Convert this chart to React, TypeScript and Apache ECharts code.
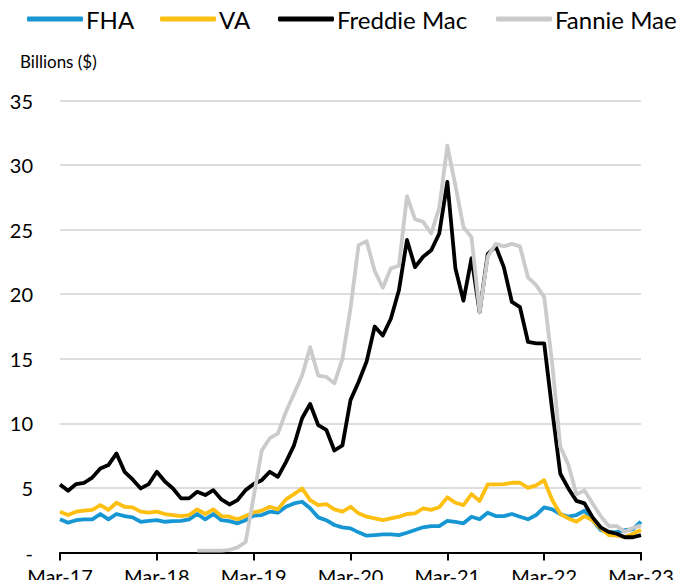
import React, { useEffect, useRef } from "react";
import * as echarts from "echarts";

const monthNames = ["Jan", "Feb", "Mar", "Apr", "May", "Jun", "Jul", "Aug", "Sep", "Oct", "Nov", "Dec"];
const categories: string[] = [];
for (let k = 0; k < 73; k++) {
  const m = (2 + k) % 12;
  const y = 17 + Math.floor((2 + k) / 12);
  categories.push(`${monthNames[m]}-${y}`);
}

const fha = [
  2.57, 2.31, 2.5, 2.57, 2.57, 2.98, 2.57, 2.98, 2.82, 2.72, 2.38, 2.45,
  2.5, 2.38, 2.43, 2.45, 2.57, 2.98, 2.57, 2.98, 2.5, 2.43, 2.26, 2.5,
  2.85, 2.9, 3.16, 3.08, 3.54, 3.8, 3.93, 3.42, 2.72, 2.5, 2.13, 1.95,
  1.87, 1.56, 1.3, 1.35, 1.4, 1.4, 1.35, 1.53, 1.74, 1.95, 2.05, 2.05,
  2.45, 2.38, 2.26, 2.77, 2.57, 3.08, 2.82, 2.82, 2.98, 2.77, 2.57, 2.9,
  3.5, 3.34, 2.98, 2.77, 2.9, 3.23, 2.5, 1.74, 1.53, 1.6, 1.74, 1.8,
  2.38,
];

const va = [
  3.16, 2.9, 3.16, 3.24, 3.3, 3.67, 3.3, 3.85, 3.54, 3.5, 3.16, 3.08,
  3.16, 2.98, 2.9, 2.82, 2.9, 3.34, 2.98, 3.34, 2.82, 2.77, 2.57, 2.82,
  3.1, 3.24, 3.54, 3.34, 4.11, 4.52, 4.96, 4.06, 3.67, 3.75, 3.34, 3.16,
  3.54, 3.03, 2.77, 2.64, 2.5, 2.64, 2.77, 2.98, 3.03, 3.42, 3.3, 3.5,
  4.27, 3.85, 3.67, 4.52, 3.98, 5.27, 5.27, 5.3, 5.4, 5.4, 5.0, 5.2,
  5.6, 4.06, 2.98, 2.64, 2.38, 2.82, 2.5, 1.87, 1.35, 1.3, 1.2, 1.45,
  1.75,
];

const freddie = [
  5.27, 4.78, 5.3, 5.4, 5.8, 6.5, 6.77, 7.67, 6.25, 5.66, 4.96, 5.3,
  6.25, 5.5, 4.96, 4.19, 4.19, 4.7, 4.45, 4.83, 4.11, 3.72, 4.06, 4.83,
  5.3, 5.6, 6.25, 5.86, 7.0, 8.3, 10.4, 11.5, 9.86, 9.5, 7.9, 8.3,
  11.8, 13.2, 14.8, 17.5, 16.8, 18.1, 20.3, 24.2, 22.1, 22.9, 23.4, 24.7,
  28.7, 22.0, 19.5, 22.8, 18.6, 23.1, 23.7, 22.1, 19.4, 19.0, 16.3, 16.2,
  16.2, 11.0, 6.1, 4.96, 4.0, 3.8, 2.72, 1.95, 1.6, 1.45, 1.18, 1.18,
  1.35,
];

const fannie = [
  null, null, null, null, null, null, null, null, null, null, null, null,
  null, null, null, null, null, 0.15, 0.15, 0.15, 0.15, 0.2, 0.4, 0.8,
  4.3, 7.9, 8.85, 9.2, 10.9, 12.3, 13.7, 15.9, 13.7, 13.6, 13.1, 15.0,
  18.9, 23.8, 24.1, 21.8, 20.5, 22.0, 22.2, 27.6, 25.8, 25.6, 24.7, 26.7,
  31.5, 28.4, 25.2, 24.4, 18.6, 22.9, 23.9, 23.7, 23.9, 23.7, 21.3, 20.7,
  19.8, 14.6, 8.2, 6.8, 4.5, 4.8, 3.8, 2.82, 2.05, 2.05, 1.6, 1.9,
  2.1,
];

const seriesNames = ["FHA", "VA", "Freddie Mac", "Fannie Mae"];
const seriesColors = ["#1696d2", "#fdbf11", "#000000", "#cbcbcb"];
const seriesData = [fha, va, freddie, fannie];
const legendLefts = [27, 160, 278, 496];

const FONT = "Lato, 'Noto Sans', sans-serif";

export default function App() {
  const ref = useRef<HTMLDivElement>(null);
  useEffect(() => {
    if (!ref.current) return;
    const chart = echarts.init(ref.current, null, { renderer: "svg" });
    chart.setOption({
      animation: false,
      backgroundColor: "#ffffff",
      textStyle: { fontFamily: FONT },
      legend: seriesNames.map((name, i) => ({
        left: legendLefts[i],
        top: 7,
        padding: 0,
        itemWidth: 56,
        itemHeight: 5,
        icon: "roundRect",
        textStyle: { fontSize: 24, color: "#000", fontFamily: FONT, padding: [0, 0, 0, -2] },
        data: [name],
      })),
      grid: { left: 60, right: 44, top: 100.5, bottom: 35.5, containLabel: false },
      xAxis: {
        type: "category",
        data: categories,
        boundaryGap: false,
        axisLine: { lineStyle: { color: "#000", width: 2 } },
        axisTick: { show: true, interval: 11, length: 8, lineStyle: { color: "#000", width: 2 } },
        axisLabel: { interval: 11, fontSize: 20, color: "#000", margin: 13, fontFamily: FONT },
        splitLine: { show: false },
      },
      yAxis: {
        type: "value",
        min: 0,
        max: 35,
        interval: 5,
        axisLine: { show: false },
        axisTick: { show: false },
        axisLabel: {
          fontSize: 20,
          color: "#000",
          margin: 27,
          fontFamily: FONT,
          formatter: (v: number) => (v === 0 ? "-" : String(v)),
        },
        splitLine: { lineStyle: { color: "#dedede", width: 2 } },
      },
      series: seriesNames.map((name, i) => ({
        name,
        type: "line",
        data: seriesData[i],
        showSymbol: false,
        symbol: "none",
        color: seriesColors[i],
        lineStyle: { width: 3.8, color: seriesColors[i], join: "round" },
        connectNulls: false,
        z: 2 + i,
      })),
      graphic: [
        {
          type: "text",
          left: 20,
          top: 53,
          style: { text: "Billions ($)", fontSize: 17, fill: "#000", fontFamily: FONT },
        },
        {
          type: "text",
          left: -6,
          top: 567,
          style: { text: "8", fontSize: 20, fill: "#000", fontFamily: FONT },
        },
      ],
    });
    return () => chart.dispose();
  }, []);
  return <div ref={ref} style={{ width: 685, height: 588, margin: -8 }} />;
}
